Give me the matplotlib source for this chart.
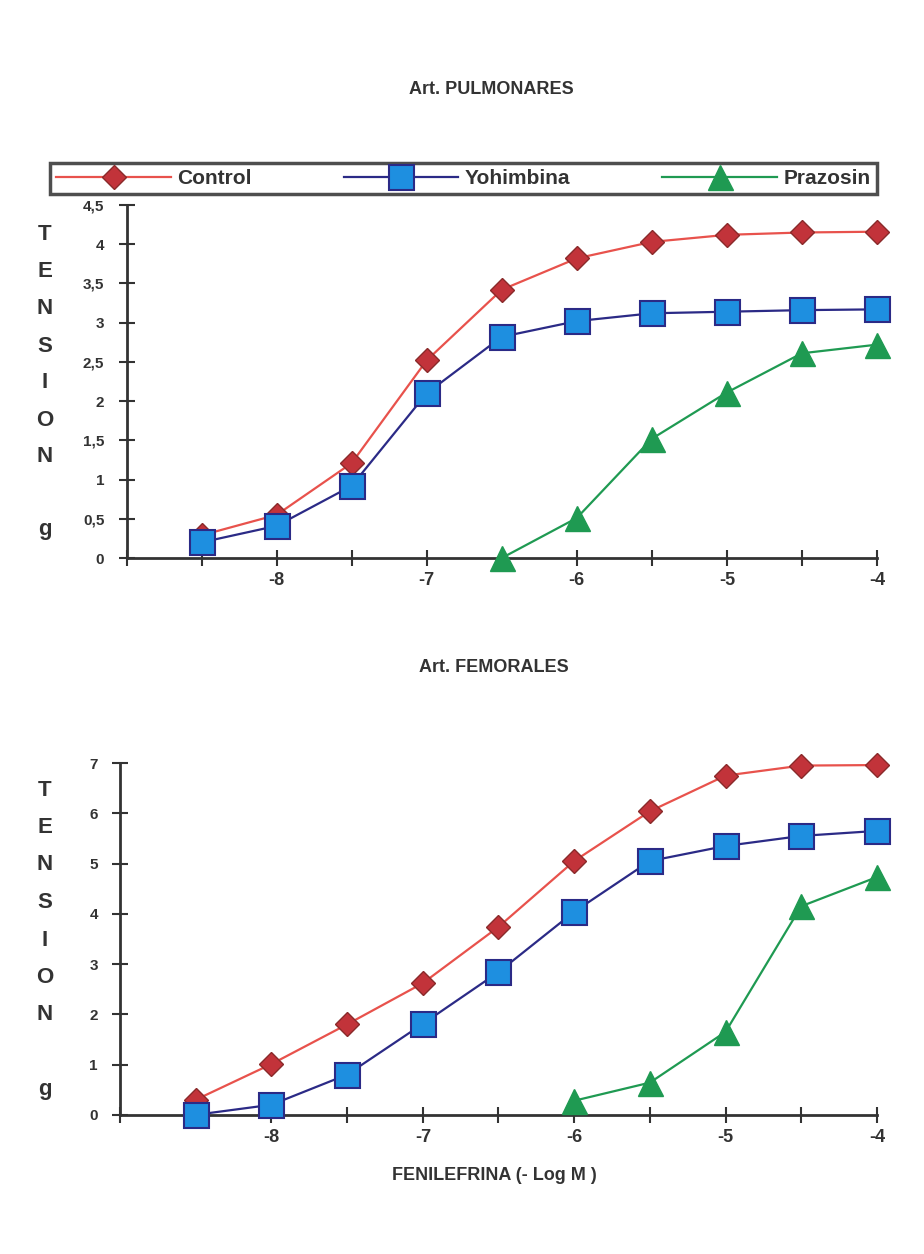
import numpy as np
import matplotlib
matplotlib.use("Agg")
import matplotlib.pyplot as plt
from matplotlib.ticker import FixedLocator, FuncFormatter

plt.rcParams['font.family'] = ['Liberation Sans', 'DejaVu Sans']
plt.rcParams['font.weight'] = 'bold'

# datos
dosis = [-8.5, -8, -7.5, -7, -6.5, -6, -5.5, -5, -4.5, -4]
dosis_praz_pulm = [-6.5, -6, -5.5, -5, -4.5, -4]
dosis_praz_fem = [-6, -5.5, -5, -4.5, -4]

pulm_control = [0.29, 0.55, 1.21, 2.52, 3.42, 3.82, 4.03, 4.12, 4.15, 4.16]
pulm_yohim = [0.2, 0.41, 0.92, 2.1, 2.82, 3.02, 3.12, 3.14, 3.16, 3.17]
pulm_praz = [0.0, 0.51, 1.52, 2.11, 2.61, 2.72]

fem_control = [0.3, 1.01, 1.8, 2.62, 3.74, 5.05, 6.04, 6.75, 6.95, 6.96]
fem_yohim = [0.0, 0.2, 0.8, 1.81, 2.84, 4.04, 5.05, 5.35, 5.55, 5.65]
fem_praz = [0.28, 0.64, 1.65, 4.15, 4.73]

x_labels = [-8, -7, -6, -5, -4]
ylabel = 'TENSION'

c_red = '#e8524c'
c_red_m = '#c2333a'
c_blue = '#2b2a86'
c_blue_m = '#1e8fe0'
c_green = '#1f9a52'
gris = '#333333'

W, H = 924, 1254
fig = plt.figure(figsize=(W / 100, H / 100), dpi=100)
ax1 = fig.add_axes([0.137, 0.555, 0.812, 0.2815])
ax2 = fig.add_axes([0.130, 0.111, 0.819, 0.2805])


def coma(v, pos):
    return ('%g' % v).replace('.', ',')


def estilo(ax, ymax, ystep):
    ax.set_xlim(-9, -4)
    ax.set_ylim(0, ymax)
    ax.spines['top'].set_visible(False)
    ax.spines['right'].set_visible(False)
    for s in ('left', 'bottom'):
        ax.spines[s].set_linewidth(2)
        ax.spines[s].set_color(gris)
    ax.xaxis.set_major_locator(FixedLocator(x_labels))
    ax.xaxis.set_minor_locator(FixedLocator(np.arange(-9, -3.9, 0.5)))
    ax.set_xticklabels([str(v) for v in x_labels])
    ax.set_yticks(np.arange(0, ymax + 0.01, ystep))
    ax.yaxis.set_major_formatter(FuncFormatter(coma))
    ax.tick_params(axis='x', which='both', direction='inout', length=12,
                   width=1.5, color=gris, pad=4, labelsize=13, labelcolor=gris)
    ax.tick_params(axis='y', direction='inout', length=12, width=1.5,
                   color=gris, pad=10, labelsize=11, labelcolor=gris)
    ax.set_facecolor('none')


def etiqueta_y(y0, paso, yg):
    # letras de TENSION apiladas, y la "g" aparte
    for i, letra in enumerate(ylabel):
        fig.text(45 / W, 1 - (y0 + paso * i) / H, letra, ha='center', va='center',
                 fontsize=16, color=gris)
    fig.text(45 / W, 1 - yg / H, 'g', ha='center', va='center', fontsize=16, color=gris)


def curvas(ax, control, yohim, xpraz, praz):
    l1, = ax.plot(dosis, control, color=c_red, lw=1.6, marker='D', ms=12,
                  mfc=c_red_m, mec='#8a2a2a', mew=1, label='Control', clip_on=False, zorder=3)
    l2, = ax.plot(dosis, yohim, color=c_blue, lw=1.6, marker='s', ms=18,
                  mfc=c_blue_m, mec=c_blue, mew=1.5, label='Yohimbina', clip_on=False, zorder=4)
    l3, = ax.plot(xpraz, praz, color=c_green, lw=1.6, marker='^', ms=18,
                  mfc=c_green, mec=c_green, label='Prazosin', clip_on=False, zorder=4)
    return l1, l2, l3


handles = curvas(ax1, pulm_control, pulm_yohim, dosis_praz_pulm, pulm_praz)
curvas(ax2, fem_control, fem_yohim, dosis_praz_fem, fem_praz)
estilo(ax1, 4.5, 0.5)
estilo(ax2, 7, 1)
etiqueta_y(235, 37, 530)
etiqueta_y(790, 37.5, 1090)

fig.text(0.532, 1 - 90 / H, 'Art. PULMONARES', ha='center', va='center', fontsize=13, color=gris)
fig.text(0.535, 1 - 668 / H, 'Art. FEMORALES', ha='center', va='center', fontsize=13, color=gris)
fig.text(0.535, 1 - 1176 / H, 'FENILEFRINA (- Log M )', ha='center', va='center', fontsize=13, color=gris)

leg = fig.legend(handles=handles, loc='center', ncol=3, frameon=True, fancybox=False,
                 bbox_to_anchor=(0.043, 1 - 197 / H, 0.917, 37 / H), mode='expand',
                 fontsize=15, handlelength=5.5, borderpad=0.3, columnspacing=1.0,
                 handletextpad=0.3)
leg.get_frame().set_edgecolor('#222222')
leg.get_frame().set_linewidth(2.5)
for t in leg.get_texts():
    t.set_color(gris)

fig.savefig('out.png', dpi=100)
